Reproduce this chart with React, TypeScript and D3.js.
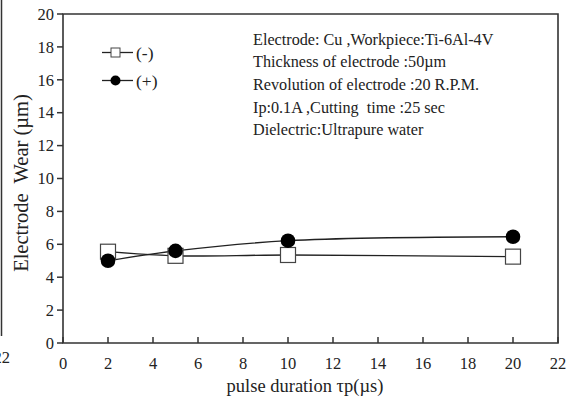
import React from "react";
import * as d3 from "d3";

const xTicks = [0, 2, 4, 6, 8, 10, 12, 14, 16, 18, 20, 22];
const yTicks = [0, 2, 4, 6, 8, 10, 12, 14, 16, 18, 20];
const pulse = [2, 5, 10, 20];
const wearMinus = [5.55, 5.3, 5.35, 5.25];
const wearPlus = [5.0, 5.6, 6.22, 6.46];
const notes = [
  "Electrode: Cu ,Workpiece:Ti-6Al-4V",
  "Thickness of electrode :50\u00b5m",
  "Revolution of electrode :20 R.P.M.",
  "Ip:0.1A ,Cutting  time :25 sec",
  "Dielectric:Ultrapure water",
];

const W = 567, H = 401;
const left = 63, right = 558, top = 14, bottom = 343;
const font = "Liberation Serif, Times New Roman, serif";

export default function App() {
  const x = d3.scaleLinear().domain([0, 22]).range([left, right]);
  const y = d3.scaleLinear().domain([0, 20]).range([bottom, top]);
  const line = d3
    .line<number>()
    .x((_, i) => x(pulse[i]))
    .y((d) => y(d))
    .curve(d3.curveCatmullRom.alpha(0.5));
  const stroke = "#222";
  const ts = { fontFamily: font };
  return (
    <svg width={W} height={H} style={{ position: "absolute", left: 0, top: 0, background: "#fff", fontFamily: font }}>
      <rect width={W} height={H} fill="#fff" />
      {/* fragment of neighbouring chart */}
      <line x1={1.5} x2={1.5} y1={0} y2={336} stroke="#333" strokeWidth={1.5} />
      <text x={10} y={363} fontSize={16.5} textAnchor="end" fill="#222" style={ts}>22</text>

      {/* frame */}
      <path d={`M${left},${top}H${right}V${bottom}H${left}Z`} fill="none" stroke="#333" strokeWidth={1.6} />
      {yTicks.map((t) => (
        <g key={"y" + t}>
          <line x1={left - 6} x2={left} y1={y(t)} y2={y(t)} stroke="#333" strokeWidth={1.5} />
          <text x={left - 9} y={y(t)} dy="0.35em" fontSize={16.5} textAnchor="end" fill="#222" style={ts}>{t}</text>
        </g>
      ))}
      {xTicks.map((t) => (
        <g key={"x" + t}>
          <line x1={x(t)} x2={x(t)} y1={bottom} y2={bottom - 6} stroke="#333" strokeWidth={1.5} />
          <text x={x(t)} y={bottom + 20} dy="0.35em" fontSize={16.5} textAnchor="middle" fill="#222" style={ts}>{t}</text>
        </g>
      ))}
      <text x={305} y={392} fontSize={18.5} textAnchor="middle" fill="#222" style={ts}>pulse duration {"\u03c4"}p({"\u00b5"}s)</text>
      <text transform={`translate(28,183) rotate(-90)`} fontSize={20.5} textAnchor="middle" fill="#222" style={{ whiteSpace: "pre", fontFamily: font }}>
        {"Electrode  Wear (\u00b5m)"}
      </text>

      {/* series */}
      <path d={line(wearMinus) || ""} fill="none" stroke={stroke} strokeWidth={1.3} />
      <path d={line(wearPlus) || ""} fill="none" stroke={stroke} strokeWidth={1.3} />
      {wearMinus.map((v, i) => (
        <rect key={"m" + i} x={x(pulse[i]) - 7.5} y={y(v) - 7.5} width={15} height={15} fill="#fff" stroke="#444" strokeWidth={1.2} />
      ))}
      {wearPlus.map((v, i) => (
        <circle key={"p" + i} cx={x(pulse[i])} cy={y(v)} r={7.3} fill="#000" />
      ))}

      {/* legend */}
      <line x1={102} x2={133} y1={52.5} y2={52.5} stroke={stroke} strokeWidth={1.3} />
      <rect x={111} y={48} width={9} height={9} fill="#fff" stroke="#444" strokeWidth={1} />
      <text x={136} y={52.5} dy="0.35em" fontSize={17.5} fill="#222" style={ts}>(-)</text>
      <line x1={102} x2={133} y1={80.5} y2={80.5} stroke={stroke} strokeWidth={1.3} />
      <circle cx={115.5} cy={80.5} r={5} fill="#000" />
      <text x={136} y={80.5} dy="0.35em" fontSize={17.5} fill="#222" style={ts}>(+)</text>

      {/* notes */}
      {notes.map((s, i) => (
        <text key={"n" + i} x={253} y={39 + i * 22.7} dy="0.35em" fontSize={16.2} fill="#222" style={{ whiteSpace: "pre", fontFamily: font }}>{s}</text>
      ))}
    </svg>
  );
}
